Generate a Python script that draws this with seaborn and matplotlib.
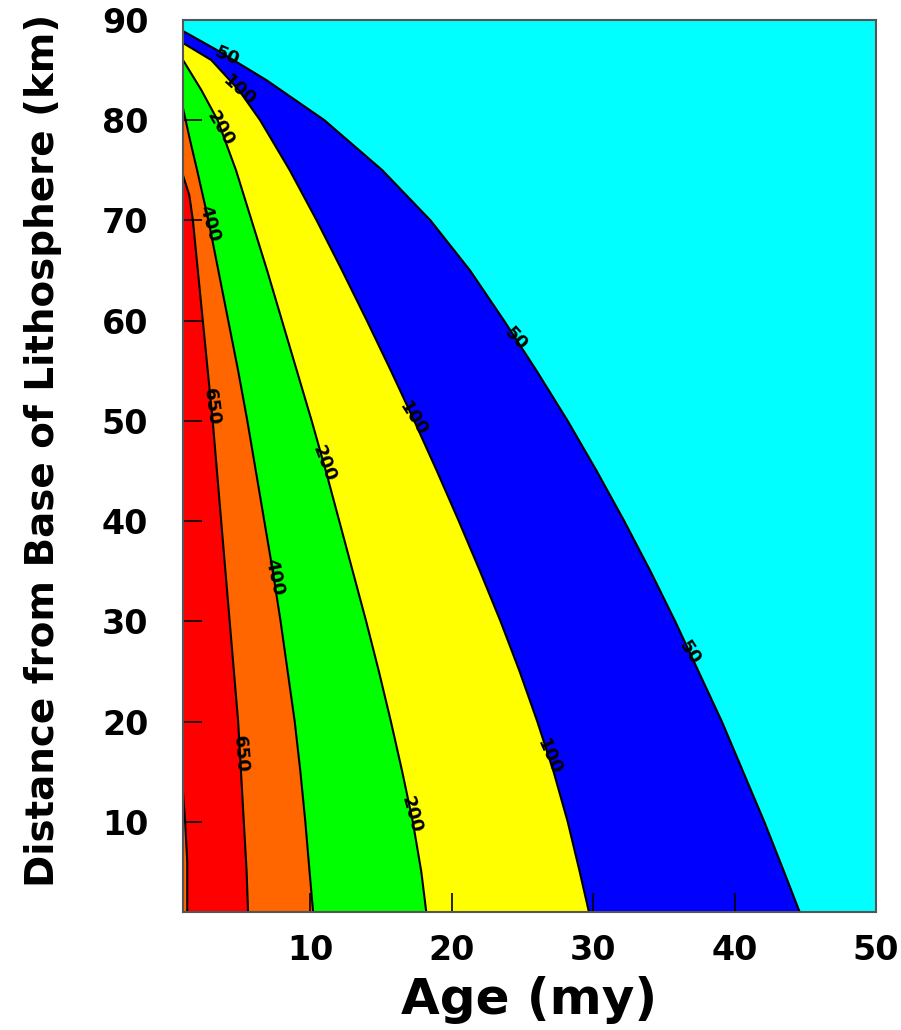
import numpy as np
import matplotlib
matplotlib.use("Agg")
import matplotlib.pyplot as plt
import seaborn as sns

# contour boundaries: (age in my, distance in km)
levels = ["50", "100", "200", "400", "650"]
fill_colors = ["#0000ff", "#ffff00", "#00ff00", "#ff6600", "#ff0000"]

d50 = [1, 5, 10, 15, 20, 25, 30, 35, 40, 45, 50, 55, 60, 65, 70, 75, 80, 84, 87, 88.9]
a50 = [44.6, 43.5, 42.1, 40.6, 39.1, 37.45, 35.8, 34.05, 32.2, 30.25, 28.2, 26.0,
       23.7, 21.3, 18.5, 15.1, 11.0, 6.9, 3.4, 1.0]

d100 = [1, 5, 10, 15, 20, 25, 30, 35, 40, 45, 50, 55, 60, 65, 70, 75, 80, 83, 86, 87.7]
a100 = [29.7, 29.05, 28.2, 27.2, 26.05, 24.8, 23.45, 22.0, 20.5, 18.95, 17.35,
        15.7, 14.0, 12.25, 10.45, 8.55, 6.45, 4.95, 3.0, 1.0]

d200 = [1, 5, 10, 15, 20, 25, 30, 35, 40, 45, 50, 55, 60, 65, 70, 75, 80, 83, 86]
a200 = [18.2, 17.85, 17.25, 16.5, 15.7, 14.85, 13.95, 13.0, 12.05, 11.1, 10.1,
        9.05, 8.0, 6.95, 5.85, 4.75, 3.45, 2.3, 1.0]

d400 = [1, 5, 10, 15, 20, 25, 30, 35, 40, 45, 50, 55, 60, 65, 70, 75, 78, 81.2]
a400 = [10.2, 9.95, 9.65, 9.3, 8.9, 8.4, 7.9, 7.35, 6.75, 6.15, 5.55, 4.9, 4.2,
        3.5, 2.8, 2.0, 1.5, 1.0]

d650 = [1, 5, 10, 15, 20, 25, 30, 35, 40, 45, 50, 55, 60, 65, 70, 72.5, 74.5]
a650 = [5.6, 5.5, 5.3, 5.1, 4.9, 4.6, 4.3, 4.0, 3.7, 3.4, 3.1, 2.75, 2.4, 2.05,
        1.7, 1.45, 1.0]

# small sliver of the 650 contour hugging the left edge near the bottom
d650_edge = [1, 6, 10, 13]
a650_edge = [1.3, 1.3, 1.15, 1.0]

# where the inline contour labels sit (distance along each curve)
label_d = {
    "50": [86.4, 58.2, 26.9],
    "100": [83.0, 50.2, 16.5],
    "200": [79.2, 45.7, 10.7],
    "400": [69.7, 34.4],
    "650": [51.4, 16.7],
}

xticks = [10, 20, 30, 40, 50]
yticks = [10, 20, 30, 40, 50, 60, 70, 80, 90]

sns.set_style("ticks")
plt.rcParams["font.family"] = ["DejaVu Sans"]
plt.rcParams["text.color"] = "black"
plt.rcParams["axes.labelcolor"] = "black"

fig = plt.figure(figsize=(9.01, 10.30), dpi=100)
ax = fig.add_axes([0.2031, 0.1146, 0.7692, 0.8660])
ax.set_axisbelow(False)
xmin, xmax, ymin, ymax = 1, 50, 1, 90
ax.set_xlim(xmin, xmax)
ax.set_ylim(ymin, ymax)

# background (below 50)
ax.fill_betweenx([ymin, ymax], xmin, xmax, color="#00ffff", lw=0, zorder=0)

curves = [(a50, d50), (a100, d100), (a200, d200), (a400, d400), (a650, d650)]
for (a, d), col in zip(curves, fill_colors):
    px = list(a) + [0, 0]
    py = list(d) + [d[-1], ymin - 1]
    ax.fill(px, py, color=col, lw=0, zorder=1)

# orange sliver at the left edge
ax.fill(list(a650_edge) + [0, 0], list(d650_edge) + [d650_edge[-1], ymin - 1],
        color="#ff6600", lw=0, zorder=1)

for a, d in curves + [(a650_edge, d650_edge)]:
    sns.lineplot(x=a, y=d, sort=False, estimator=None, color="black",
                 lw=1.5, ax=ax, zorder=2)

# contour labels, rotated roughly along the curve (reading downward)
for lev, (a, d) in zip(levels, curves):
    for dl in label_d[lev]:
        al = np.interp(dl, d, a)
        hi = (np.interp(dl + 2, d, a), dl + 2)
        lo = (np.interp(dl - 2, d, a), dl - 2)
        p_hi = ax.transData.transform(hi)
        p_lo = ax.transData.transform(lo)
        ang = np.degrees(np.arctan2((p_lo[1] - p_hi[1]) / 1.4, p_lo[0] - p_hi[0]))
        ax.text(al, dl, lev, rotation=ang, rotation_mode="anchor",
                ha="center", va="center", fontsize=13, fontweight="heavy",
                color="black", zorder=3)

ax.set_xticks(xticks)
ax.set_yticks(yticks)
ax.tick_params(direction="in", length=14, width=1.2, colors="black",
               labelcolor="black", labelsize=24)
ax.tick_params(axis="x", pad=16)
ax.tick_params(axis="y", pad=25)
for lab in ax.get_xticklabels() + ax.get_yticklabels():
    lab.set_fontweight("bold")
for sp in ax.spines.values():
    sp.set_color("#555555")
    sp.set_linewidth(1.5)
    sp.set_zorder(4)

ax.set_xlabel("Age (my)", fontsize=36, fontweight="bold")
ax.set_ylabel("Distance from Base of Lithosphere (km)", fontsize=28,
              fontweight="bold")
ax.xaxis.set_label_coords(0.5, -0.072)
ax.yaxis.set_label_coords(-0.175, 0.518)

fig.savefig("out.png", dpi=100)
